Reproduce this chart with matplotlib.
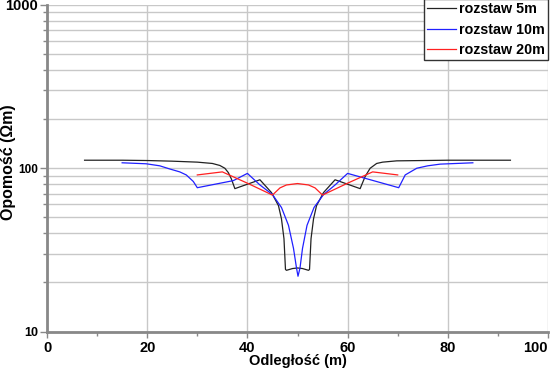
import matplotlib
matplotlib.use("Agg")
import matplotlib.pyplot as plt
from matplotlib.ticker import LogLocator, NullFormatter, FixedLocator

# --- data ---
x_5m = [7.5, 15, 20, 25, 30, 33, 34.5, 35.5, 36.2, 36.8, 37.5, 42.5, 44.8, 46.2, 46.8, 47.3, 47.6, 47.8,
        49, 50, 51, 52.2, 52.4, 52.7, 53.2, 53.8, 55.2, 57.5, 62.5, 63.5, 64.5, 65.8, 67, 69.8, 75, 80, 85, 92.5]
v_5m = [112, 112, 111.5, 110.5, 109, 107, 104, 100, 94, 86, 75, 85, 71, 59, 49, 37, 24, 23.7,
        24.3, 24.5, 24.3, 23.7, 24, 37, 49, 59, 71, 85, 75, 89, 100, 107, 109, 111, 111.5, 112, 112, 112]

x_10m = [15, 19.8, 22.5, 24.5, 26.5, 27.8, 29.2, 30, 37.2, 40, 42.5, 45, 46.8, 48.2, 49.2, 49.8, 50.1,
         50.5, 51, 51.9, 53.3, 55.2, 57.5, 60, 70.2, 71.5, 73.8, 76, 78.5, 85]
v_10m = [108, 106.5, 103.5, 99, 95, 91, 83, 76, 84, 93, 79, 69, 57.5, 44.7, 32.3, 24.5, 21.8,
         24.5, 32.3, 44.7, 57.5, 69, 79, 93, 76, 91, 100, 103.5, 106, 108]

x_20m = [30, 35, 40, 45, 46.5, 47.8, 50, 52.2, 53.5, 55, 60, 65, 70]
v_20m = [91, 95, 81, 68.5, 75.8, 79, 80.6, 79, 75.8, 68.5, 81, 95, 91]

labels = ["rozstaw 5m", "rozstaw 10m", "rozstaw 20m"]
xticks = [0, 20, 40, 60, 80, 100]
yticks = [10, 100, 1000]

plt.rcParams['font.family'] = ['Liberation Sans', 'DejaVu Sans']

fig = plt.figure(figsize=(5.5, 3.68), dpi=100)
ax = fig.add_axes([47/550, 36.5/368, 501/550, 326.5/368])

ax.plot(x_5m, v_5m, color='#222222', lw=0.9, label=labels[0])
ax.plot(x_10m, v_10m, color='#2020ff', lw=0.9, label=labels[1])
ax.plot(x_20m, v_20m, color='#ff2020', lw=0.9, label=labels[2])

ax.set_yscale('log')
ax.set_xlim(0, 100)
ax.set_ylim(10, 1000)

ax.xaxis.set_major_locator(FixedLocator(xticks))
ax.xaxis.set_minor_locator(FixedLocator([10, 30, 50, 70, 90]))
ax.yaxis.set_major_locator(FixedLocator(yticks))
ax.yaxis.set_minor_locator(LogLocator(base=10, subs=range(2, 10)))
ax.yaxis.set_minor_formatter(NullFormatter())
ax.set_yticklabels([str(t) for t in yticks])
ax.set_xticklabels([str(t) for t in xticks])

ax.grid(True, which='major', axis='both', color='#c8c8c8', lw=1)
ax.grid(True, which='minor', axis='y', color='#c8c8c8', lw=1)
ax.set_axisbelow(True)

for s in ['top', 'right']:
    ax.spines[s].set_visible(False)
for s in ['left', 'bottom']:
    ax.spines[s].set_color('#888888')
    ax.spines[s].set_linewidth(2)

ax.tick_params(axis='x', which='major', length=4, width=1, color='#888888',
               labelsize=10.5, pad=3)
ax.tick_params(axis='y', which='major', length=5, width=1, color='#888888',
               labelsize=8.5, pad=1.5)
ax.tick_params(axis='both', which='minor', length=3, width=1, color='#888888')
for lab in ax.get_xticklabels() + ax.get_yticklabels():
    lab.set_fontweight('bold')
ax.get_xticklabels()[-1].set_horizontalalignment('right')
ylabs = ax.get_yticklabels()
ylabs[0].set_fontsize(9)
ylabs[1].set_fontsize(8.5)
ylabs[2].set_fontsize(10.5)

ax.set_xlabel('Odległość (m)', fontsize=10.5, fontweight='bold', labelpad=-1)
ax.set_ylabel('Opomość (Ωm)', fontsize=11.5, fontweight='bold')
ax.yaxis.set_label_coords(-0.062, 0.52)

leg = ax.legend(loc='upper right', bbox_to_anchor=(1.0, 1.017), prop={'weight': 'bold', 'size': 10.3},
                frameon=True, fancybox=False, framealpha=1, edgecolor='#333333',
                handlelength=2.05, handletextpad=0.2, borderpad=0.2, labelspacing=0.45,
                borderaxespad=0)
leg.get_frame().set_linewidth(1)

fig.savefig('out.png', dpi=100)
